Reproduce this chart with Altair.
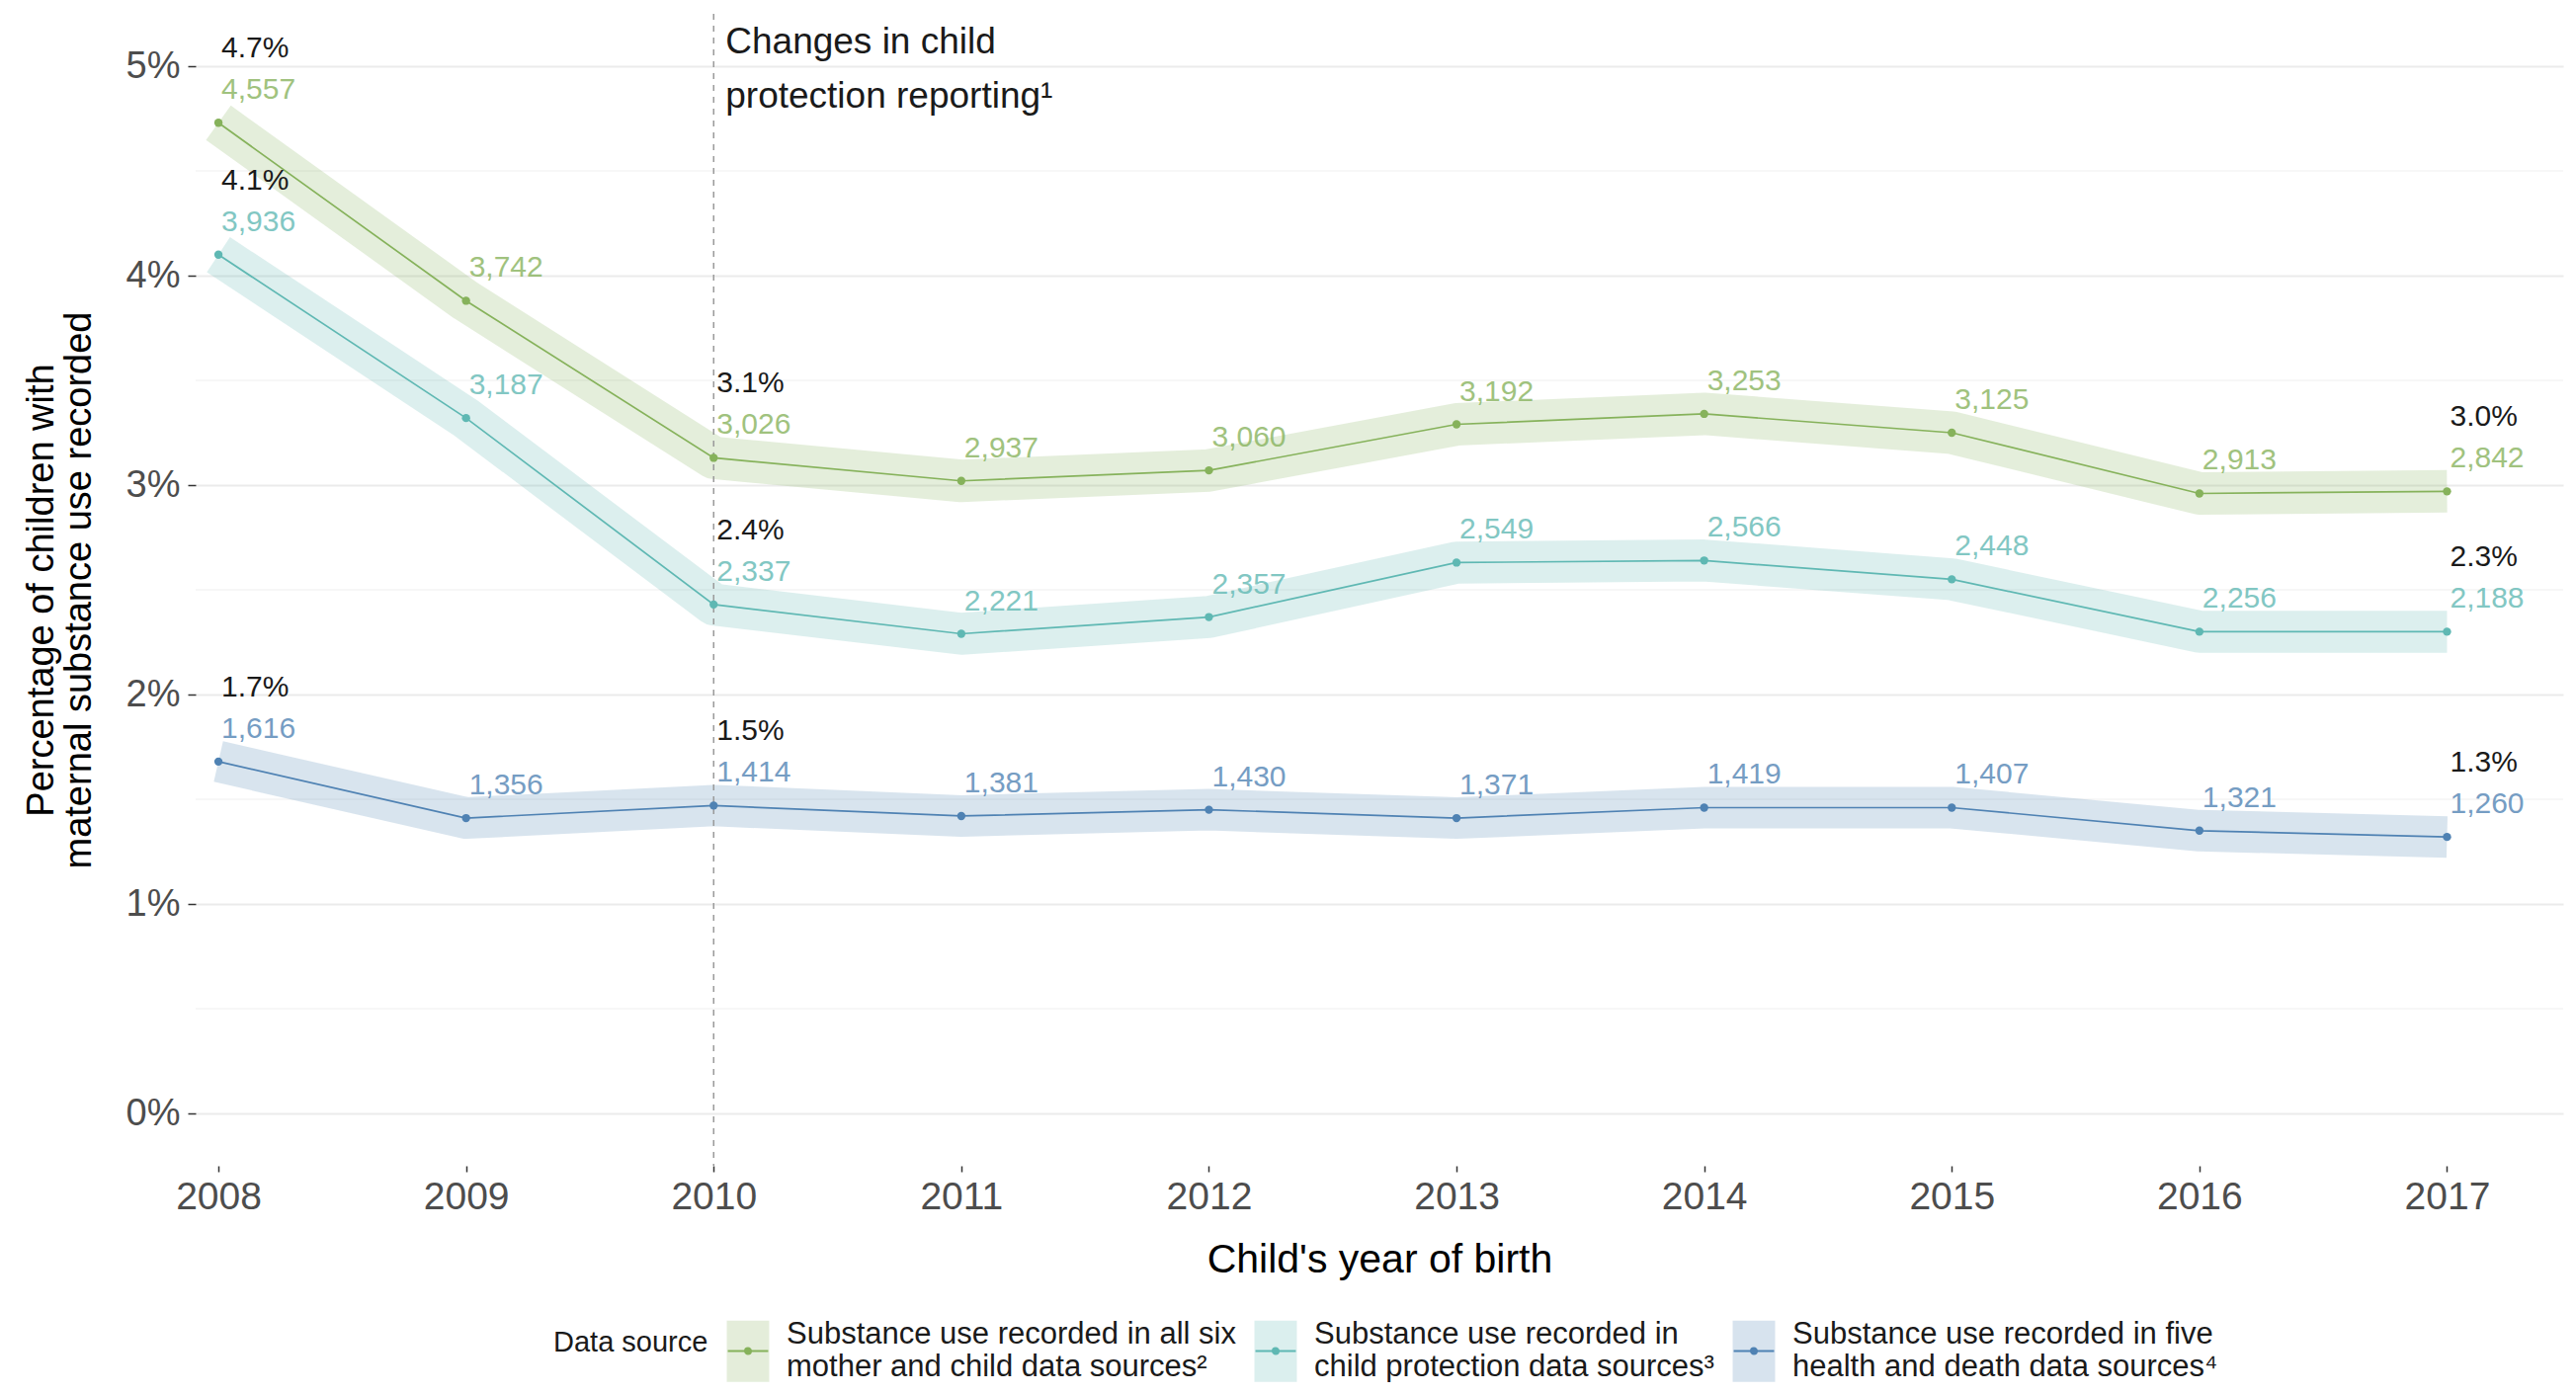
import altair as alt
import pandas as pd
import numpy as np

# ---------------- data ----------------
years = [2008, 2009, 2010, 2011, 2012, 2013, 2014, 2015, 2016, 2017]

series_names = [
    "Substance use recorded in all six\nmother and child data sources²",
    "Substance use recorded in\nchild protection data sources³",
    "Substance use recorded in five\nhealth and death data sources⁴",
]
series_colors = ["#86b25b", "#5fb8b3", "#4f82b3"]
band_widths = [43, 42, 35]

pct_all_six = [4.73, 3.88, 3.13, 3.02, 3.07, 3.29, 3.34, 3.25, 2.96, 2.97]
pct_child_protection = [4.10, 3.32, 2.43, 2.29, 2.37, 2.63, 2.64, 2.55, 2.30, 2.30]
pct_health_death = [1.68, 1.41, 1.47, 1.42, 1.45, 1.41, 1.46, 1.46, 1.35, 1.32]

n_all_six = [4557, 3742, 3026, 2937, 3060, 3192, 3253, 3125, 2913, 2842]
n_child_protection = [3936, 3187, 2337, 2221, 2357, 2549, 2566, 2448, 2256, 2188]
n_health_death = [1616, 1356, 1414, 1381, 1430, 1371, 1419, 1407, 1321, 1260]

highlight_years = [2008, 2010, 2017]
pct_labels_all_six = ["4.7%", "3.1%", "3.0%"]
pct_labels_child_protection = ["4.1%", "2.4%", "2.3%"]
pct_labels_health_death = ["1.7%", "1.5%", "1.3%"]

y_ticks = [0, 1, 2, 3, 4, 5]
y_minor = [0.5, 1.5, 2.5, 3.5, 4.5]
change_year = [2010]
annotation_lines = ["Changes in child", "protection reporting¹"]

# ---------------- tables ----------------
all_pct = [pct_all_six, pct_child_protection, pct_health_death]
all_n = [n_all_six, n_child_protection, n_health_death]
all_lab = [pct_labels_all_six, pct_labels_child_protection, pct_labels_health_death]

rows = []
for s, pcts, ns in zip(series_names, all_pct, all_n):
    for yr, p, n in zip(years, pcts, ns):
        rows.append({"year": yr, "series": s, "pct": p, "n": n})
df = pd.DataFrame(rows)

lab_rows = []
for s, pcts, labs in zip(series_names, all_pct, all_lab):
    for yr, lab in zip(highlight_years, labs):
        lab_rows.append({"year": yr, "series": s, "pct": pcts[years.index(yr)], "label": lab})
df_lab = pd.DataFrame(lab_rows)

df_minor = pd.DataFrame({"v": y_minor})
df_change = pd.DataFrame({"year": change_year})

FONT = "Liberation Sans"

x_scale = alt.Scale(domain=[2007.908, 2017.469], nice=False, zero=False)
y_scale = alt.Scale(domain=[-0.25, 5.25], nice=False, zero=False)
X = alt.X("year:Q", scale=x_scale,
          axis=alt.Axis(values=years, format="d", grid=False, domain=False,
                        tickSize=6, tickWidth=1.5, tickColor="#333333",
                        labelFontSize=39, labelColor="#4d4d4d", labelPadding=6,
                        labelFont=FONT, title="Child's year of birth",
                        titleFontSize=41, titleFontWeight="normal", titleColor="#000000",
                        titleFont=FONT, titlePadding=24))
Y = alt.Y("pct:Q", scale=y_scale,
          axis=alt.Axis(values=y_ticks, labelExpr="datum.value + '%'", grid=True,
                        gridColor="#ebebeb", gridWidth=2, domain=False,
                        tickSize=8, tickWidth=1.5, tickColor="#333333",
                        labelFontSize=38, labelColor="#4d4d4d", labelPadding=8,
                        labelFont=FONT,
                        title=["Percentage of children with", "maternal substance use recorded"],
                        titleFontSize=38, titleFontWeight="normal", titleColor="#000000",
                        titleFont=FONT, titleLineHeight=38, titlePadding=28))

legend_common = dict(
    orient="none", legendX=362, legendY=1305, direction="horizontal", columns=3,
    title="Data source", titleOrient="left", titleFontSize=29, titleFontWeight="normal",
    titleColor="#1a1a1a", titleFont=FONT, titlePadding=8, titleAnchor="middle",
    titleBaseline="middle",
    labelFontSize=31, labelFont=FONT, labelColor="#1a1a1a", labelLimit=0,
    labelExpr="split(datum.label, '\\n')", labelOffset=7, columnPadding=8, padding=0,
    symbolSize=3844, symbolStrokeWidth=2,
)

# keys are drawn half a label line lower so they sit beside both label lines
KEY_SHIFT = 0.532
# key background: a block of thin vertical strokes (one path -> uniform translucent fill)
band_key_path = "".join(
    f"M{x:.3f},{-1 + KEY_SHIFT:.3f}V{1 + KEY_SHIFT:.3f}" for x in np.arange(-0.66, 0.661, 0.04))
c = KEY_SHIFT
line_key_path = (f"M-0.66,{c}H0.66"
                 f"M0.097,{c}A0.097,0.097,0,1,1,-0.097,{c}A0.097,0.097,0,1,1,0.097,{c}"
                 f"M0.04,{c}A0.04,0.04,0,1,1,-0.04,{c}A0.04,0.04,0,1,1,0.04,{c}")

# the band legend only contributes the key backgrounds; its texts are laid out but hidden
band_legend = alt.Legend(symbolType=band_key_path, symbolOpacity=0.22,
                         titleOpacity=0, labelOpacity=0, **legend_common)
line_legend = alt.Legend(symbolType=line_key_path, **legend_common)

base = alt.Chart(df)

minor = alt.Chart(df_minor).mark_rule(color="#f0f0f0", strokeWidth=1.2).encode(
    y=alt.Y("v:Q", scale=y_scale))

bands = base.mark_line(opacity=0.22, strokeJoin="round", strokeCap="butt").encode(
    x=X, y=Y,
    color=alt.Color("series:N", scale=alt.Scale(domain=series_names, range=series_colors),
                    legend=band_legend),
    strokeWidth=alt.StrokeWidth("series:N",
                                scale=alt.Scale(domain=series_names, range=band_widths),
                                legend=None),
)

vline = alt.Chart(df_change).mark_rule(strokeDash=[6, 6], color="#9a9a9a", strokeWidth=1.5).encode(
    x=alt.X("year:Q", scale=x_scale))

lines = base.mark_line(strokeWidth=1.7).encode(
    x=X, y=Y,
    stroke=alt.Stroke("series:N", scale=alt.Scale(domain=series_names, range=series_colors),
                      legend=line_legend),
)

fill_scale = alt.Scale(domain=series_names, range=series_colors)
points = base.mark_circle(size=70, opacity=1).encode(
    x=X, y=Y, fill=alt.Fill("series:N", scale=fill_scale, legend=None))

counts = base.mark_text(align="left", baseline="middle", dx=3, dy=-33, fontSize=30,
                        font=FONT, opacity=0.78).encode(
    x=X, y=Y, text=alt.Text("n:Q", format=","),
    fill=alt.Fill("series:N", scale=fill_scale, legend=None))

pcts = alt.Chart(df_lab).mark_text(align="left", baseline="middle", dx=3, dy=-75, fontSize=30,
                                   font=FONT, color="#1a1a1a").encode(
    x=X, y=Y, text="label:N")

annot = alt.Chart(df_change).mark_text(text=annotation_lines, align="left", baseline="middle",
                                       dx=12, fontSize=37, font=FONT, color="#1a1a1a",
                                       lineHeight=55).encode(
    x=alt.X("year:Q", scale=x_scale), y=alt.datum(5.113))

chart = alt.layer(minor, bands, vline, lines, points, counts, pcts, annot).resolve_legend(
    color="independent", stroke="independent"
).properties(
    width=2396, height=1166,
    autosize=alt.AutoSizeParams(type="none"),
    padding={"left": 190, "top": 6, "right": 5, "bottom": 219},
    background="white",
).configure_view(stroke=None)

chart.save("out.html", embed_options={"renderer": "svg", "actions": False})
